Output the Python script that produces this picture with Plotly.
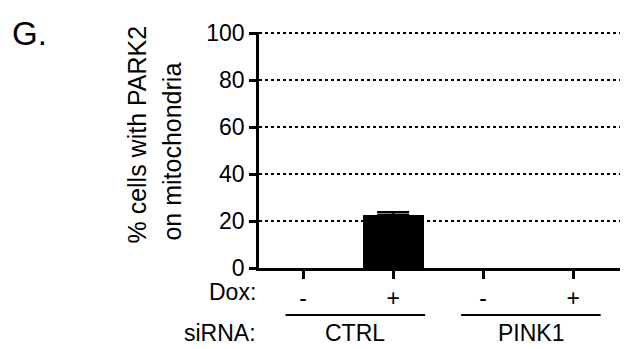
import plotly.graph_objects as go

positions = [0, 1, 2, 3]
dox_labels = ["-", "+", "-", "+"]
values = [0, 22.8, 0, 0]
errors = [0, 1.1, 0, 0]
sirna_groups = ["CTRL", "PINK1"]
group_centers = [0.58, 2.53]
y_ticks = [0, 20, 40, 60, 80, 100]

FONT = "Liberation Sans, Arial, sans-serif"

fig = go.Figure()
fig.add_trace(go.Bar(
    x=positions, y=values, width=0.68,
    marker=dict(color="black", line=dict(width=0)),
    showlegend=False,
))
# error bars only where there is a non-zero error
eb = [(p, v, e) for p, v, e in zip(positions, values, errors) if e > 0]
fig.add_trace(go.Scatter(
    x=[t[0] for t in eb], y=[t[1] for t in eb], mode="markers",
    marker=dict(size=1, opacity=0),
    error_y=dict(type="data", array=[t[2] for t in eb], symmetric=False,
                 arrayminus=[0] * len(eb), visible=True, color="black",
                 thickness=2, width=16),
    showlegend=False, hoverinfo="skip",
))

# page body has an 8px margin: the figure is 8px smaller so it fits the window
fig.update_layout(
    width=625, height=341,
    margin=dict(l=251, r=13, t=18.5, b=81),
    paper_bgcolor="white", plot_bgcolor="white",
    font=dict(family=FONT, size=23, color="black"),
    xaxis=dict(range=[-0.49, 3.52], tickvals=positions, ticktext=dox_labels,
               ticks="outside", ticklen=8, tickwidth=2.5, tickcolor="black",
               showline=True, linewidth=2.5, linecolor="black",
               showgrid=False, zeroline=False, fixedrange=True,
               tickfont=dict(size=23)),
    yaxis=dict(range=[0, 100.6], tickvals=y_ticks,
               ticks="outside", ticklen=7, tickwidth=2.5, tickcolor="black",
               showline=True, linewidth=2.5, linecolor="black",
               showgrid=True, gridcolor="black", gridwidth=1.5, griddash="dot",
               zeroline=False, tickfont=dict(size=23)),
    bargap=0,
)

def px(xp):
    return (xp - 259) / 361

def py(yp):
    return (268 - yp) / 241.44

annotations = [
    dict(text="G.", x=px(10), y=py(28), xref="paper", yref="paper",
         xanchor="left", yanchor="middle", showarrow=False, font=dict(size=33)),
    dict(text="% cells with PARK2", textangle=-90,
         x=px(137), y=py(245), xref="paper", yref="paper",
         xanchor="center", yanchor="bottom", showarrow=False, font=dict(size=25)),
    dict(text="on mitochondria", textangle=-90,
         x=px(172), y=py(242), xref="paper", yref="paper",
         xanchor="center", yanchor="bottom", showarrow=False, font=dict(size=25)),
    dict(text="Dox:", x=0, y=py(293), xref="paper", yref="paper",
         xanchor="right", yanchor="middle", showarrow=False, xshift=-1),
    dict(text="siRNA:", x=0, y=py(335), xref="paper", yref="paper",
         xanchor="right", yanchor="middle", showarrow=False, xshift=-1),
]
for name, c in zip(sirna_groups, group_centers):
    annotations.append(dict(text=name, x=c, y=py(335), xref="x", yref="paper",
                            xanchor="center", yanchor="middle", showarrow=False))
    fig.add_shape(type="line", x0=c - 0.775, x1=c + 0.775, xref="x",
                  y0=py(316), y1=py(316), yref="paper",
                  line=dict(color="black", width=2))
fig.update_layout(annotations=annotations)

fig.write_html("out.html")
